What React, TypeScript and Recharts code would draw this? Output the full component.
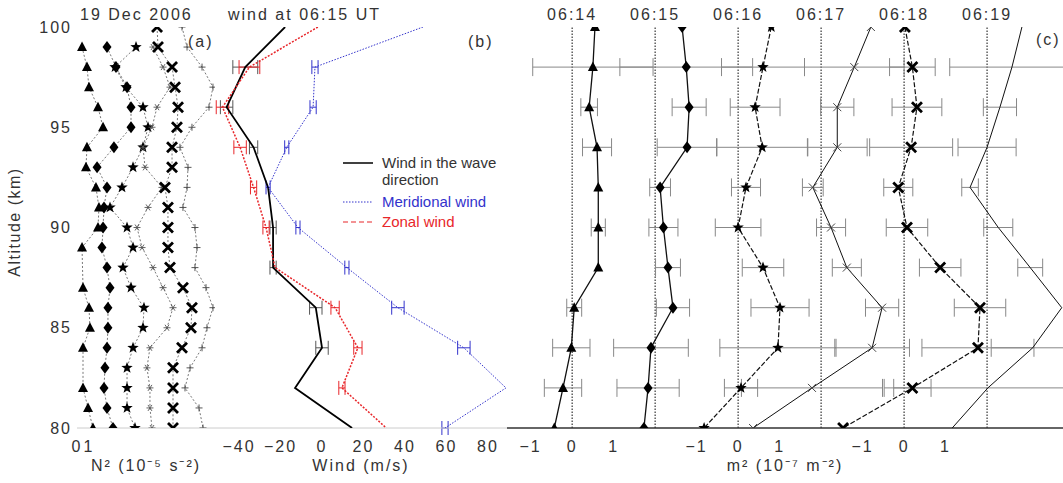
import React from "react";
import { ScatterChart, Scatter, XAxis, YAxis, ErrorBar, ReferenceLine, Label } from "recharts";

const FONT = "'Liberation Sans', Arial, Helvetica, sans-serif";
const H = 483;

// (a) N² profiles, one per altitude km, null = no point
const altA = [100, 99, 98, 97, 96, 95, 94, 93, 92, 91, 90, 89, 88, 87, 86, 85, 84, 83, 82, 81, 80];
const n2Triangle = [null, 0.42, 0.83, 1.0, 1.75, 2.17, 0.83, 0.75, 1.58, 1.83, 1.75, 0.42, null, 0.5, 1.0, 1.08, 0.5, null, 0.5, 0.92, 1.33];
const n2Diamond = [null, 1.0, 1.75, 2.67, 3.0, 3.0, 1.58, 0.17, 1.0, 0.75, 0.67, 0.58, 1.0, 1.25, 1.08, 1.08, 1.0, 0.83, 0.75, 1.0, 1.5];
const n2Star = [null, 1.92, 0.17, 1.08, 2.5, 2.92, 2.5, 1.67, 0.75, -0.25, 1.17, 1.67, 0.83, 1.5, 2.58, 2.5, 1.67, 1.17, 1.17, 1.17, 1.83];
const n2Asterisk = [null, 1.83, 2.67, 3.25, 2.17, 1.75, 1.0, 1.17, 2.58, 1.42, 0.5, 0.92, 1.83, 2.67, 3.5, 3.0, 1.58, 1.33, 1.58, 1.58, 1.75];
const n2Cross = [0.67, 0.75, 1.92, 2.17, 2.42, 2.33, 1.92, 1.92, 1.33, 1.58, 1.58, 1.58, 1.75, 2.83, 3.58, 3.5, 2.75, 2.0, 2.0, 2.0, 2.0];
const n2Plus = [1.25, 1.67, 2.92, 3.83, 3.5, 2.08, 1.08, 1.75, 1.67, 1.33, 2.33, 2.5, 2.33, 3.25, 3.83, 3.33, 2.92, 1.92, 1.5, 2.67, 3.0];
const n2Offsets = [0, 1.5, 3, 4.5, 6, 7.5];

// (b) winds, every 2 km
const altB = [100, 98, 96, 94, 92, 90, 88, 86, 84, 82, 80];
const windWave = [-17.8, -37, -46, -33, -26, -23.6, -23.6, -3, 0, -13, 14.5];
const windWaveErr = [0, 6, 3, 2, 0, 1.5, 1.5, 3, 3, 0, 0];
const windMeridional = [48.7, -3.4, -4.3, -17, -26, -11.6, 12, 36.6, 68.4, 88.7, 59.3];
const windMeridionalErr = [0, 1.5, 1.5, 1, 1, 1, 1, 3, 3, 0, 1.5];
const windZonal = [-2, -35, -48, -39.5, -33, -27, -22.6, 6.3, 17.3, 9.6, 31];
const windZonalErr = [0, 5, 3, 3, 1.5, 1.5, 0, 2, 2, 1.5, 0];

// (c) m² profiles, offset by 2 units each
const times = ["06:14", "06:15", "06:16", "06:17", "06:18", "06:19"];
const m2_0614 = [0.55, 0.5, 0.41, 0.6, 0.63, 0.63, 0.63, 0.05, -0.02, -0.22, -0.43];
const m2_0615 = [0.65, 0.75, 0.82, 0.77, 0.12, 0.2, 0.31, 0.43, -0.1, -0.17, -0.27];
const m2_0616 = [0.8, 0.6, 0.41, 0.58, 0.19, 0.0, 0.6, 1.01, 0.96, 0.07, -0.82];
const m2_0617 = [1.2, 0.8, 0.39, 0.39, -0.2, 0.24, 0.62, 1.47, 1.23, -0.22, -1.64];
const m2_0618 = [0.02, 0.2, 0.31, 0.17, -0.14, 0.07, 0.87, 1.83, 1.78, 0.2, -1.47];
const m2_0619 = [0.84, 0.6, 0.31, 0.0, -0.41, 0.27, 1.04, 1.8, 1.1, 0.02, -0.84];
const err_0614 = [0, 1.45, 0.2, 0.35, 0, 0.17, 0, 0.18, 0.45, 0.45, 0];
const err_0615 = [0, 1.6, 0.41, 0.72, 0.25, 0.35, 0.3, 0.4, 0.9, 0.75, 0];
const err_0616 = [0, 1.0, 0.6, 1.1, 0.35, 0.55, 0.5, 0.7, 1.4, 0.4, 0];
const err_0617 = [0, 1.2, 0.4, 0.72, 0.25, 0.35, 0.35, 0.4, 0.9, 1.7, 0];
const err_0618 = [0, 0.55, 0.6, 1.0, 0.35, 0.5, 0.5, 0.62, 1.35, 0.45, 0];
const err_0619 = [0, 1.5, 0.4, 0.7, 0.2, 0.35, 0.3, 0, 1.0, 2.5, 0];
const m2Step = 2;

const minus = (v: number) => (v < 0 ? `\u2212${Math.abs(v)}` : `${v}`);

// marker shapes
const tri = (p: any) => (
  <path d={`M${p.cx},${p.cy - 5.5}L${p.cx + 5},${p.cy + 4}L${p.cx - 5},${p.cy + 4}Z`} fill="#000" />
);
const diamond = (p: any) => (
  <path d={`M${p.cx},${p.cy - 6}L${p.cx + 4.5},${p.cy}L${p.cx},${p.cy + 6}L${p.cx - 4.5},${p.cy}Z`} fill="#000" />
);
const star = (p: any) => {
  let d = "";
  for (let k = 0; k < 10; k++) {
    const a = -Math.PI / 2 + (k * Math.PI) / 5;
    const r = k % 2 === 0 ? 6 : 2.5;
    d += (k === 0 ? "M" : "L") + (p.cx + r * Math.cos(a)).toFixed(1) + "," + (p.cy + r * Math.sin(a)).toFixed(1);
  }
  return <path d={d + "Z"} fill="#000" />;
};
const boldX = (p: any) => (
  <path d={`M${p.cx - 5},${p.cy - 5}L${p.cx + 5},${p.cy + 5}M${p.cx - 5},${p.cy + 5}L${p.cx + 5},${p.cy - 5}`} stroke="#000" strokeWidth={2.8} />
);
const thinX = (p: any) => (
  <path d={`M${p.cx - 4},${p.cy - 4}L${p.cx + 4},${p.cy + 4}M${p.cx - 4},${p.cy + 4}L${p.cx + 4},${p.cy - 4}`} stroke="#444" strokeWidth={1} />
);
const asterisk = (p: any) => (
  <path
    d={`M${p.cx - 3.5},${p.cy}L${p.cx + 3.5},${p.cy}M${p.cx - 2},${p.cy - 3}L${p.cx + 2},${p.cy + 3}M${p.cx - 2},${p.cy + 3}L${p.cx + 2},${p.cy - 3}`}
    stroke="#555" strokeWidth={0.9}
  />
);
const plus = (p: any) => (
  <path d={`M${p.cx - 3.5},${p.cy}L${p.cx + 3.5},${p.cy}M${p.cx},${p.cy - 3.5}L${p.cx},${p.cy + 3.5}`} stroke="#444" strokeWidth={0.9} />
);
const none = () => <g />;

const tickStyle = { fontSize: 16, fill: "#333", fontFamily: FONT };
const kmTicks = altA.slice().reverse();

const profilesA = [
  { name: "tri", vals: n2Triangle, shape: tri },
  { name: "dia", vals: n2Diamond, shape: diamond },
  { name: "star", vals: n2Star, shape: star },
  { name: "ast", vals: n2Asterisk, shape: asterisk },
  { name: "x", vals: n2Cross, shape: boldX },
  { name: "plus", vals: n2Plus, shape: plus },
].map((s, i) => ({
  ...s,
  data: altA
    .map((alt, j) => (s.vals[j] == null ? null : { x: (s.vals[j] as number) + n2Offsets[i], alt }))
    .filter(Boolean),
}));

const winds = [
  { name: "wave", vals: windWave, err: windWaveErr, color: "#000", width: 1.8, dash: undefined, errColor: "#555" },
  { name: "mer", vals: windMeridional, err: windMeridionalErr, color: "#3333cc", width: 1, dash: "1.5 1.5", errColor: "#3333cc" },
  { name: "zon", vals: windZonal, err: windZonalErr, color: "#e8262a", width: 1.5, dash: "2 1.5", errColor: "#e8262a" },
].map((s) => ({ ...s, data: altB.map((alt, j) => ({ x: s.vals[j], alt, err: s.err[j] })) }));

const profilesC = [
  { vals: m2_0614, err: err_0614, shape: tri, dash: undefined, width: 1.3 },
  { vals: m2_0615, err: err_0615, shape: diamond, dash: undefined, width: 1.3 },
  { vals: m2_0616, err: err_0616, shape: star, dash: "5 2", width: 1.2 },
  { vals: m2_0617, err: err_0617, shape: thinX, dash: undefined, width: 1 },
  { vals: m2_0618, err: err_0618, shape: boldX, dash: "5 2", width: 1.2 },
  { vals: m2_0619, err: err_0619, shape: none, dash: undefined, width: 1 },
].map((s, i) => ({ ...s, data: altB.map((alt, j) => ({ x: s.vals[j] + i * m2Step, alt, err: s.err[j] })) }));

const m2Fmt = (v: number) => {
  const off = v < 2 ? 0 : v < 6 ? 4 : 8;
  return minus(Math.round(v - off));
};

function Txt({ left, top, children, color = "#333", size = 16, spacing = 2 }: any) {
  return (
    <div style={{ position: "absolute", left, top, fontSize: size, lineHeight: `${size}px`, letterSpacing: spacing, color, whiteSpace: "nowrap", fontFamily: FONT }}>
      {children}
    </div>
  );
}

export default function App() {
  return (
    <div className="fig" style={{ position: "fixed", left: 0, top: 0, width: 1063, height: H, overflow: "hidden", background: "#fff", fontFamily: FONT }}>
      <style>{`.fig svg text { letter-spacing: 2px; }`}</style>

      {/* (a) */}
      <div style={{ position: "absolute", left: 0, top: 0 }}>
        <ScatterChart width={215} height={H} margin={{ top: 27, right: 0, bottom: 0, left: 0 }}>
          <XAxis type="number" dataKey="x" domain={[0, 11.5]} ticks={[0, 1]} interval={0} allowDataOverflow height={55}
            axisLine={{ stroke: "#ccc" }} tickLine={false} tickSize={0} tickMargin={13} tick={tickStyle}>
            <Label value="N² (10⁻⁵ s⁻²)" position="insideBottom" offset={12} style={{ fontSize: 16, fill: "#333", fontFamily: FONT }} />
          </XAxis>
          <YAxis type="number" dataKey="alt" domain={[80, 100]} ticks={[80, 85, 90, 95, 100]} interval={0} allowDataOverflow width={77}
            axisLine={false} tickLine={false} tickSize={0} tickMargin={5} tick={tickStyle} />
          {profilesA.map((s) => (
            <Scatter key={s.name} data={s.data} shape={s.shape} isAnimationActive={false}
              line={{ stroke: "#555", strokeWidth: 0.8, strokeDasharray: "2 2" }} />
          ))}
        </ScatterChart>
      </div>

      {/* (b) */}
      <div style={{ position: "absolute", left: 215, top: 0 }}>
        <ScatterChart width={292} height={H} margin={{ top: 27, right: 0, bottom: 0, left: 0 }}>
          <XAxis type="number" dataKey="x" domain={[-51.6, 89.2]} ticks={[-40, -20, 0, 20, 40, 60, 80]} interval={0} allowDataOverflow height={55}
            axisLine={{ stroke: "#ccc" }} tickLine={false} tickSize={0} tickMargin={13} tick={tickStyle} tickFormatter={minus}>
            <Label value="Wind (m/s)" position="insideBottom" offset={12} style={{ fontSize: 16, fill: "#333", fontFamily: FONT }} />
          </XAxis>
          <YAxis type="number" dataKey="alt" domain={[80, 100]} ticks={kmTicks} interval={0} allowDataOverflow mirror width={0}
            axisLine={false} tickSize={7} tickLine={{ stroke: "#bbb" }} tickFormatter={() => ""} />
          {winds.map((s) => (
            <Scatter key={s.name} data={s.data} shape={none} isAnimationActive={false}
              line={{ stroke: s.color, strokeWidth: s.width, strokeDasharray: s.dash }}>
              <ErrorBar dataKey="err" direction="x" width={7} stroke={s.errColor} strokeWidth={1} />
            </Scatter>
          ))}
        </ScatterChart>
      </div>

      {/* (c) */}
      <div style={{ position: "absolute", left: 507, top: 0 }}>
        <ScatterChart width={556} height={H} margin={{ top: 27, right: 0, bottom: 0, left: 0 }}>
          <XAxis type="number" dataKey="x" domain={[-1.57, 11.83]} ticks={[-1, 0, 1, 3, 4, 5, 7, 8, 9]} interval={0} allowDataOverflow height={55}
            axisLine={{ stroke: "#333", strokeWidth: 1.5 }} tickLine={false} tickSize={0} tickMargin={13} tick={tickStyle} tickFormatter={m2Fmt}>
            <Label value="m² (10⁻⁷ m⁻²)" position="insideBottom" offset={12} style={{ fontSize: 16, fill: "#333", fontFamily: FONT }} />
          </XAxis>
          <YAxis type="number" dataKey="alt" domain={[80, 100]} ticks={kmTicks} interval={0} allowDataOverflow mirror width={0}
            axisLine={false} tickSize={8} tickLine={{ stroke: "#bbb" }} tickFormatter={() => ""} />
          {times.map((t, i) => (
            <ReferenceLine key={t} x={i * m2Step} stroke="#222" strokeWidth={1.1} strokeDasharray="1.5 1.5"
              label={{ value: t, position: "top", offset: 7, fill: "#333", fontSize: 16, fontFamily: FONT }} />
          ))}
          {profilesC.map((s, i) => (
            <Scatter key={times[i]} data={s.data} shape={s.shape} isAnimationActive={false}
              line={{ stroke: "#111", strokeWidth: s.width, strokeDasharray: s.dash }}>
              <ErrorBar dataKey="err" direction="x" width={9} stroke="#888" strokeWidth={1} />
            </Scatter>
          ))}
        </ScatterChart>
      </div>

      {/* annotations */}
      <Txt left={80} top={7}>19 Dec 2006</Txt>
      <Txt left={228} top={7}>wind at 06:15 UT</Txt>
      <Txt left={188} top={34}>(a)</Txt>
      <Txt left={468} top={34}>(b)</Txt>
      <Txt left={1036} top={32}>(c)</Txt>
      <div style={{ position: "absolute", left: 15, top: 222, transform: "translate(-50%, -50%) rotate(-90deg)", fontSize: 16, letterSpacing: 1.5, color: "#333", whiteSpace: "nowrap" }}>
        Altitude (km)
      </div>

      {/* legend */}
      <svg style={{ position: "absolute", left: 340, top: 150 }} width={36} height={80}>
        <line x1={3} y1={13} x2={33} y2={13} stroke="#000" strokeWidth={1.5} />
        <line x1={3} y1={52} x2={33} y2={52} stroke="#3333cc" strokeWidth={1} strokeDasharray="1.5 1.5" />
        <line x1={3} y1={72} x2={33} y2={72} stroke="#e8262a" strokeWidth={1.2} strokeDasharray="5 3" />
      </svg>
      <Txt left={382} top={155} size={15} spacing={0}>Wind in the wave</Txt>
      <Txt left={382} top={172} size={15} spacing={0}>direction</Txt>
      <Txt left={382} top={194} size={15} spacing={0} color="#3333cc">Meridional wind</Txt>
      <Txt left={382} top={214} size={15} spacing={0} color="#e8262a">Zonal wind</Txt>
    </div>
  );
}
